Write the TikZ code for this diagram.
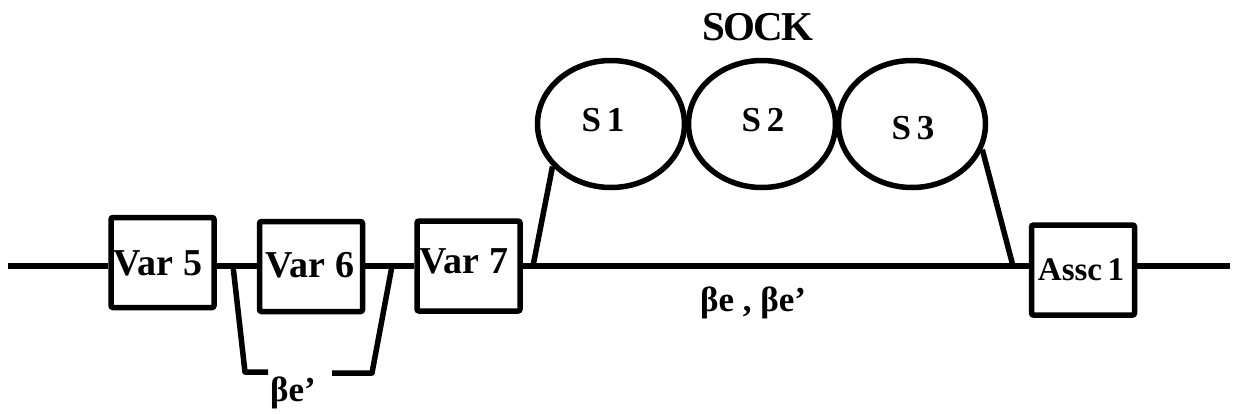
\documentclass[tikz,border=0pt]{standalone}
\usepackage{fontspec}
\setmainfont{Liberation Serif}
\usetikzlibrary{shapes.geometric}
\begin{document}
\begin{tikzpicture}[x=1pt,y=-1pt,
  lw/.style={line width=5.5pt},
  boxnode/.style={draw,lw,rectangle,rounded corners=2pt,inner sep=0pt,minimum width=103pt,minimum height=90pt},
  ringnode/.style={draw,lw,ellipse,inner sep=0pt,minimum width=147pt,minimum height=127pt},
  lbl/.style={inner sep=0pt,font=\bfseries\fontsize{35}{38}\selectfont},
  boxlbl/.style={inner sep=0pt,font=\bfseries\fontsize{38}{40}\selectfont}]
\useasboundingbox (0,0) rectangle (1235,413);
% boxes
\node[boxnode] (v5) at (162.5,262.5) {};
\node[boxlbl] (t5) at (158,263) {Var 5};
\node[boxnode] (v6) at (311,266.5) {};
\node[boxlbl] (t6) at (310,265) {Var 6};
\node[boxnode] (v7) at (468.5,266) {};
\node[boxlbl] (t7) at (464,261) {Var 7};
\node[boxnode] (a1) at (1083,270) {};
\node[boxlbl,font=\bfseries\fontsize{33}{36}\selectfont] (ta) at (1081,270) {Assc\,1};
% circles
\node[ringnode] (s1) at (611,124) {};
\node[lbl] (ts1) at (603,120) {S\,1};
\node[ringnode] (s2) at (762,124) {};
\node[lbl] (ts2) at (763,120) {S\,2};
\node[ringnode] (s3) at (912,124) {};
\node[lbl] (ts3) at (913,128) {S\,3};
\node[lbl,font=\bfseries\fontsize{41}{44}\selectfont] (sock) at (758,27) {S\kern-2ptO\kern-2ptC\kern-2ptK};
% main line
\coordinate (L0) at (8,266);
\coordinate (R0) at (1230,266);
\coordinate (m1) at (533,266);
\coordinate (m2) at (1013,266);
\draw[lw] (L0) -- (v5.west |- L0);
\draw[lw] (v5.east |- L0) -- (v6.west |- L0);
\draw[lw] (v6.east |- L0) -- (v7.west |- L0);
\draw[lw] (v7.east |- L0) -- (a1.west |- L0);
\draw[lw] (a1.east |- L0) -- (R0);
% legs to SOCK
\draw[lw] (m1) -- (s1.216);
\draw[lw] (m2) -- (s3.340);
% bracket
\coordinate (b1) at (233,266);
\coordinate (b2) at (245,372);
\coordinate (b3) at (268,372);
\coordinate (b4) at (332,373);
\coordinate (b5) at (372,373);
\coordinate (b6) at (392,266);
\draw[lw,line join=round] (b1) -- (b2) -- (b3);
\draw[lw,line join=round] (b4) -- (b5) -- (b6);
\node[lbl] (be1) at (293,393) {βe’};
\node[lbl] (be2) at (753,303) {βe , βe’};
\end{tikzpicture}
\end{document}
